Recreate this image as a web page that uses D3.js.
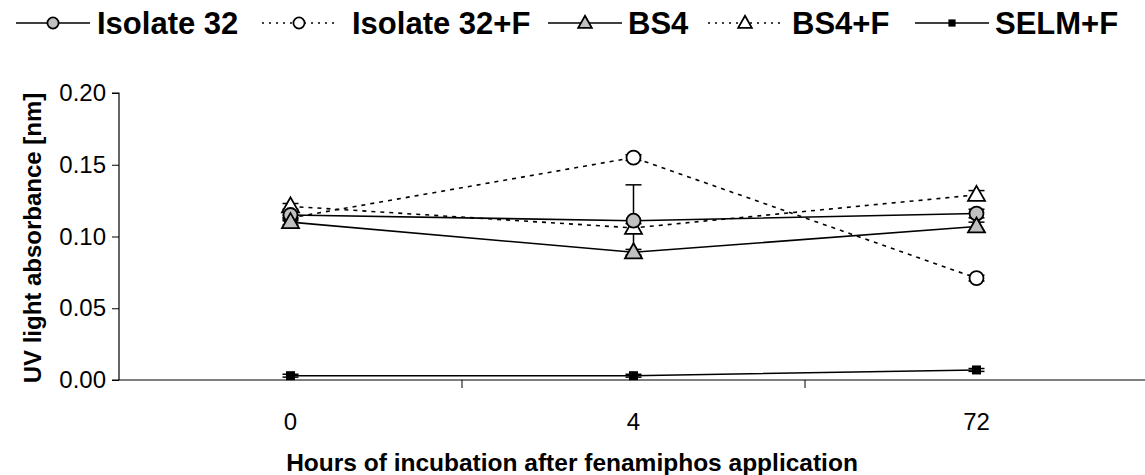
<!DOCTYPE html>
<html><head><meta charset="utf-8">
<script src="https://cdn.jsdelivr.net/npm/d3@7"></script>
<style>body{margin:0;background:#fff;} svg{display:block;font-family:"Liberation Sans",Arial,sans-serif;}</style>
</head><body>
<svg id="c" width="1145" height="475"></svg>
<script>
const categories = ["0", "4", "72"];
const yTicks = [0, 0.05, 0.10, 0.15, 0.20];
const seriesNames = ["Isolate 32", "Isolate 32+F", "BS4", "BS4+F", "SELM+F"];
const isolate32 = [0.115, 0.111, 0.116];
const isolate32F = [0.113, 0.155, 0.071];
const bs4 = [0.110, 0.089, 0.107];
const bs4F = [0.121, 0.106, 0.129];
const selmF = [0.003, 0.003, 0.007];
const isolate32Err = [0.002, 0.025, 0.003];
const isolate32FErr = [0.002, 0.002, 0.002];
const bs4Err = [0.002, 0.002, 0.003];
const bs4FErr = [0.002, 0.003, 0.003];
const selmFErr = [0.001, 0.001, 0.001];

const series = [
  {name: seriesNames[1], values: isolate32F, err: isolate32FErr, shape: "circle", fill: "#fff", dash: "4,5"},
  {name: seriesNames[3], values: bs4F, err: bs4FErr, shape: "triangle", fill: "#fff", dash: "4,5"},
  {name: seriesNames[0], values: isolate32, err: isolate32Err, shape: "circle", fill: "#c0c0c0", dash: null},
  {name: seriesNames[2], values: bs4, err: bs4Err, shape: "triangle", fill: "#c0c0c0", dash: null},
  {name: seriesNames[4], values: selmF, err: selmFErr, shape: "square", fill: "#000", dash: null}
];

const svg = d3.select("#c");
const x = d3.scaleBand().domain(categories).range([119, 1148]);
const y = d3.scaleLinear().domain([0, 0.20]).range([380, 93]);

const yAxis = d3.axisLeft(y).tickValues(yTicks).tickFormat(d3.format(".2f")).tickSize(7).tickPadding(6);
const gy = svg.append("g").attr("transform", "translate(119,0)").call(yAxis);
gy.select(".domain").attr("d", "M-7,93H0V380").attr("stroke-width", 1.2);
gy.selectAll("text").attr("font-size", 24).attr("font-family", "Liberation Sans, Arial, sans-serif").attr("fill", "#000");

const gx = svg.append("g").attr("transform", "translate(0,380)");
gx.append("line").attr("x1", 112).attr("x2", 1148).attr("stroke", "#000").attr("stroke-width", 1.2);
const bounds = categories.slice(1).map(c => x(c));
gx.selectAll(".tk").data(bounds).enter().append("line")
  .attr("x1", d => d).attr("x2", d => d).attr("y1", 0).attr("y2", 8).attr("stroke", "#000");
gx.selectAll(".lb").data(categories).enter().append("text")
  .attr("x", d => x(d) + x.bandwidth() / 2).attr("y", 50).attr("text-anchor", "middle")
  .attr("font-size", 24).text(d => d);

svg.append("text").attr("x", 572).attr("y", 471).attr("text-anchor", "middle")
  .attr("font-size", 24.5).attr("font-weight", "bold").text("Hours of incubation after fenamiphos application");
svg.append("text").attr("transform", "translate(41,238) rotate(-90)").attr("text-anchor", "middle")
  .attr("font-size", 24).attr("font-weight", "bold").text("UV light absorbance [nm]");

function marker(g, shape, fill, cx, cy, s) {
  s = s || 1;
  if (shape === "circle") {
    g.append("circle").attr("cx", cx).attr("cy", cy).attr("r", 7 * s).attr("fill", fill).attr("stroke", "#000").attr("stroke-width", 1.8);
  } else if (shape === "triangle") {
    const h = 15 * s, w = 8.5 * s;
    g.append("path").attr("d", `M${cx},${cy - h * 0.6}L${cx + w},${cy + h * 0.4}L${cx - w},${cy + h * 0.4}Z`)
      .attr("fill", fill).attr("stroke", "#000").attr("stroke-width", 1.8).attr("stroke-linejoin", "miter");
  } else {
    const a = 4.5 * s;
    g.append("rect").attr("x", cx - a).attr("y", cy - a).attr("width", 2 * a).attr("height", 2 * a).attr("fill", "#000");
  }
}

const cx = c => x(c) + x.bandwidth() / 2;
const line = d3.line().x((d, i) => cx(categories[i])).y(d => y(d));

series.forEach(s => {
  svg.append("path").datum(s.values).attr("d", line).attr("fill", "none").attr("stroke", "#000")
    .attr("stroke-width", 1.6).attr("stroke-dasharray", s.dash);
});
series.forEach(s => {
  const g = svg.append("g").attr("stroke", "#000").attr("stroke-width", 1.5);
  s.values.forEach((v, i) => {
    const px = cx(categories[i]);
    g.append("line").attr("x1", px).attr("x2", px).attr("y1", y(v + s.err[i])).attr("y2", y(v - s.err[i]));
    [v + s.err[i], v - s.err[i]].forEach(e => {
      g.append("line").attr("x1", px - 8).attr("x2", px + 8).attr("y1", y(e)).attr("y2", y(e));
    });
  });
});
series.forEach(s => {
  const g = svg.append("g");
  s.values.forEach((v, i) => marker(g, s.shape, s.fill, cx(categories[i]), y(v)));
});

const legendOrder = [
  {name: seriesNames[0], shape: "circle", fill: "#c0c0c0", dash: null, x0: 16, tx: 97},
  {name: seriesNames[1], shape: "circle", fill: "#fff", dash: "2,5", x0: 262, tx: 352},
  {name: seriesNames[2], shape: "triangle", fill: "#c0c0c0", dash: null, x0: 548, tx: 628},
  {name: seriesNames[3], shape: "triangle", fill: "#fff", dash: "2,5", x0: 708, tx: 792},
  {name: seriesNames[4], shape: "square", fill: "#000", dash: null, x0: 915, tx: 995}
];
const lg = svg.append("g");
legendOrder.forEach(l => {
  const g = lg.append("g");
  g.append("line").attr("x1", l.x0).attr("x2", l.x0 + 74).attr("y1", 23).attr("y2", 23)
    .attr("stroke", "#000").attr("stroke-width", 1.6).attr("stroke-dasharray", l.dash);
  marker(g, l.shape, l.fill, l.x0 + 37, 23, 0.8);
  g.append("text").attr("x", l.tx).attr("y", 34).attr("font-size", 31).attr("font-weight", "bold").text(l.name);
});
</script>
</body></html>
